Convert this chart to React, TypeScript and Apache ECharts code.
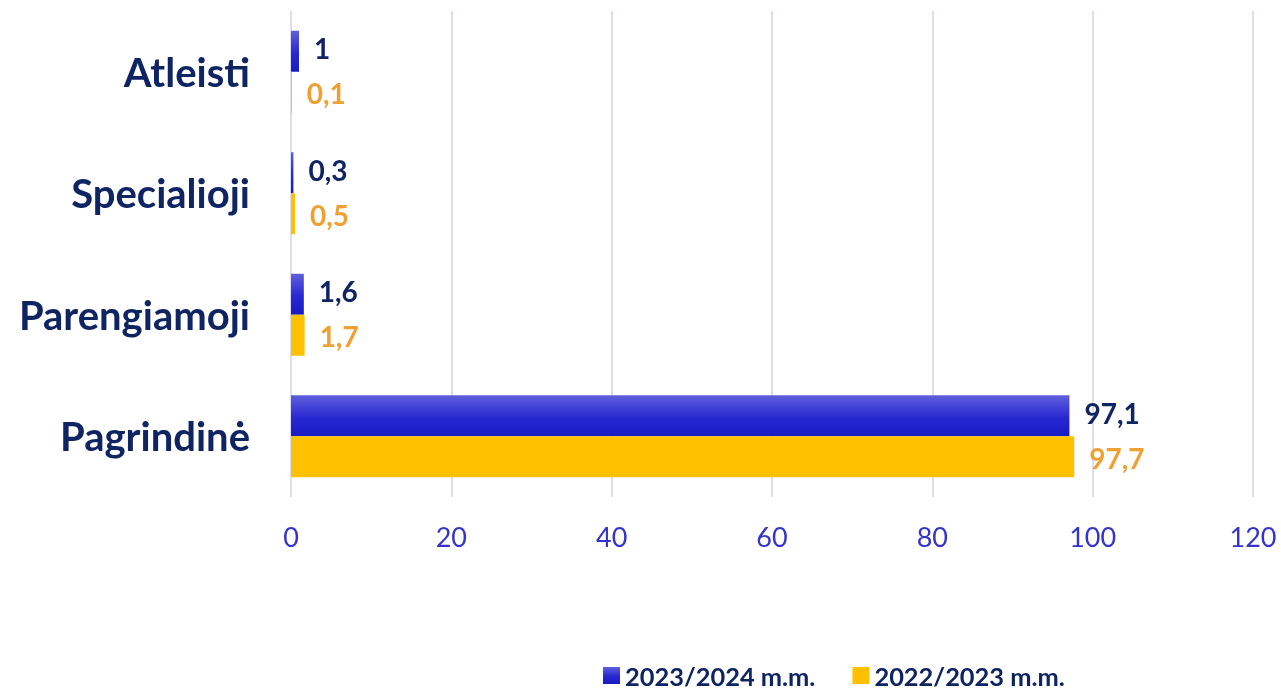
import React, { useEffect, useRef } from "react";
import * as echarts from "echarts";

const categories = ["Pagrindinė", "Parengiamoji", "Specialioji", "Atleisti"];
const series2023 = [97.1, 1.6, 0.3, 1];
const series2022 = [97.7, 1.7, 0.5, 0.1];
const seriesNames = ["2023/2024 m.m.", "2022/2023 m.m."];
const xTicks = { min: 0, max: 120, interval: 20 };

const FONT = "Lato, 'Open Sans', sans-serif";
const NAVY = "#0f2463";

export default function App() {
  const ref = useRef<HTMLDivElement>(null);
  useEffect(() => {
    if (!ref.current) return;
    const chart = echarts.init(ref.current, null, { renderer: "svg" });
    const blueGrad = new echarts.graphic.LinearGradient(0, 0, 0, 1, [
      { offset: 0, color: "#5f5fdc" },
      { offset: 0.55, color: "#2828d2" },
      { offset: 1, color: "#1a1ac4" },
    ]);
    const fmt = (p: any) => String(p.value).replace(".", ",");
    chart.setOption({
      animation: false,
      grid: { left: 291, right: 28, top: 11, bottom: 192, containLabel: false },
      legend: {
        data: seriesNames,
        left: 603,
        top: 663,
        padding: 0,
        itemWidth: 17,
        itemHeight: 17,
        itemGap: 37,
        icon: "rect",
        textStyle: { fontFamily: FONT, fontSize: 25.4, lineHeight: 24, fontWeight: "bold", color: NAVY },
      },
      xAxis: {
        type: "value",
        min: xTicks.min,
        max: xTicks.max,
        interval: xTicks.interval,
        axisLine: { show: false },
        axisTick: { show: false },
        splitLine: { lineStyle: { color: "#dcdcf4", width: 2 } },
        axisLabel: { fontFamily: FONT, fontSize: 27, color: "#3434cc", margin: 26 },
      },
      yAxis: {
        type: "category",
        data: categories,
        axisLine: { show: false },
        axisTick: { show: false },
        axisLabel: { fontFamily: FONT, fontSize: 40, fontWeight: "bold", color: NAVY, margin: 41 },
      },
      series: [
        {
          name: seriesNames[0],
          type: "bar",
          data: series2023,
          barWidth: 41,
          barGap: "0%",
          itemStyle: { color: blueGrad },
          label: {
            show: true,
            position: "right",
            distance: 15,
            offset: [0, -3],
            formatter: fmt,
            fontFamily: FONT,
            fontSize: 28,
            fontWeight: "bold",
            color: NAVY,
          },
        },
        {
          name: seriesNames[1],
          type: "bar",
          data: series2022,
          barWidth: 41,
          barGap: "0%",
          itemStyle: { color: "#ffc000" },
          label: {
            show: true,
            position: "right",
            distance: 15,
            offset: [0, 1],
            formatter: fmt,
            fontFamily: FONT,
            fontSize: 28,
            fontWeight: "bold",
            color: "#f0a030",
          },
        },
      ],
    });
    return () => chart.dispose();
  }, []);
  return (
    <div
      ref={ref}
      style={{ position: "fixed", left: 0, top: 0, width: 1281, height: 689 }}
    />
  );
}
